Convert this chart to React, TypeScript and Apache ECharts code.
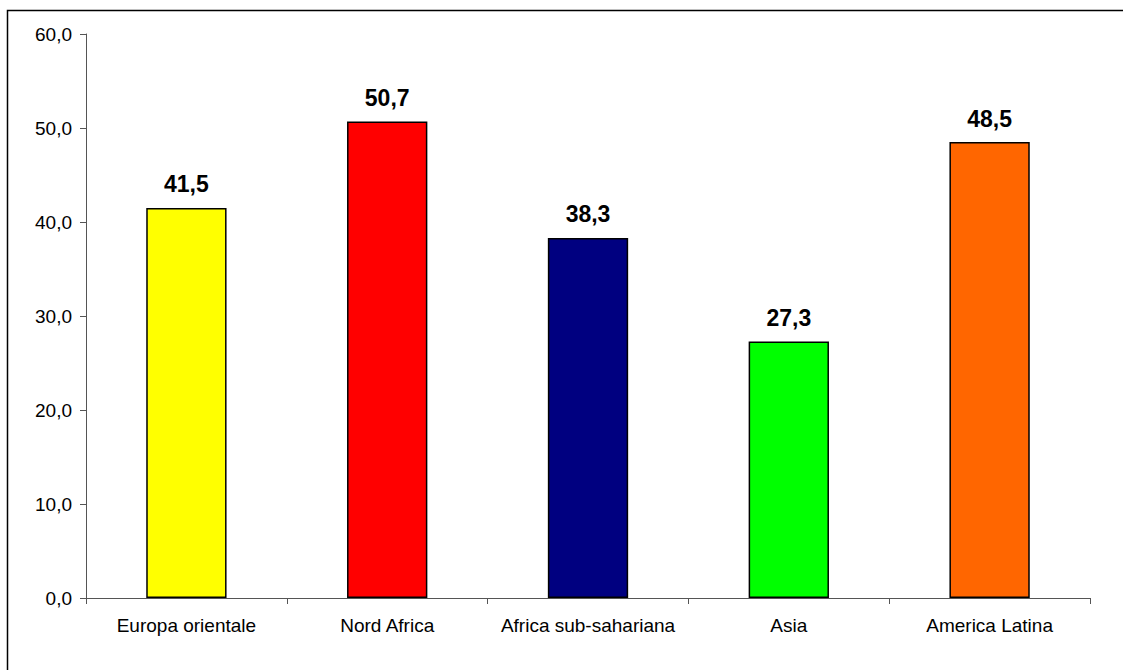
import React, { useEffect, useRef } from "react";
import * as echarts from "echarts";

const categories = ["Europa orientale", "Nord Africa", "Africa sub-sahariana", "Asia", "America Latina"];
const values = [41.5, 50.7, 38.3, 27.3, 48.5];
const barColors = ["#FFFF00", "#FF0000", "#000080", "#00FF00", "#FF6600"];

const fmt = (v: number) => v.toFixed(1).replace(".", ",");
const FONT = "Liberation Sans, Arial, sans-serif";

export default function App() {
  const ref = useRef<HTMLDivElement>(null);
  useEffect(() => {
    if (!ref.current) return;
    const chart = echarts.init(ref.current, null, { renderer: "svg" });
    chart.setOption({
      animation: false,
      backgroundColor: "#ffffff",
      graphic: [
        {
          type: "rect",
          shape: { x: 7.5, y: 10.5, width: 1130, height: 700 },
          style: { fill: "none", stroke: "#000", lineWidth: 1.5 },
          silent: true,
        },
      ],
      grid: { left: 86, right: 33, top: 34, bottom: 72, containLabel: false },
      xAxis: {
        type: "category",
        data: categories,
        axisLine: { lineStyle: { color: "#555", width: 1 } },
        axisTick: { show: true, length: 6, inside: false, interval: 0, lineStyle: { color: "#555" } },
        axisLabel: {
          interval: 0,
          hideOverlap: false,
          color: "#000",
          fontFamily: FONT,
          fontSize: 19,
          margin: 18,
        },
      },
      yAxis: {
        type: "value",
        min: 0,
        max: 60,
        interval: 10,
        splitLine: { show: false },
        axisLine: { show: true, lineStyle: { color: "#555", width: 1 } },
        axisTick: { show: true, length: 6, lineStyle: { color: "#555" } },
        axisLabel: {
          color: "#000",
          fontFamily: FONT,
          fontSize: 19,
          margin: 14,
          formatter: (v: number) => fmt(v),
        },
      },
      series: [
        {
          type: "bar",
          barWidth: "40%",
          data: values.map((v, i) => ({
            value: v,
            itemStyle: { color: barColors[i], borderColor: "#000", borderWidth: 1.5 },
          })),
          label: {
            show: true,
            position: "top",
            distance: 12,
            color: "#000",
            fontWeight: "bold",
            fontFamily: FONT,
            fontSize: 23,
            formatter: (p: any) => fmt(p.value),
          },
        },
      ],
    });
    return () => chart.dispose();
  }, []);
  return (
    <div
      ref={ref}
      style={{ position: "absolute", left: 0, top: 0, width: 1123, height: 670 }}
    />
  );
}
